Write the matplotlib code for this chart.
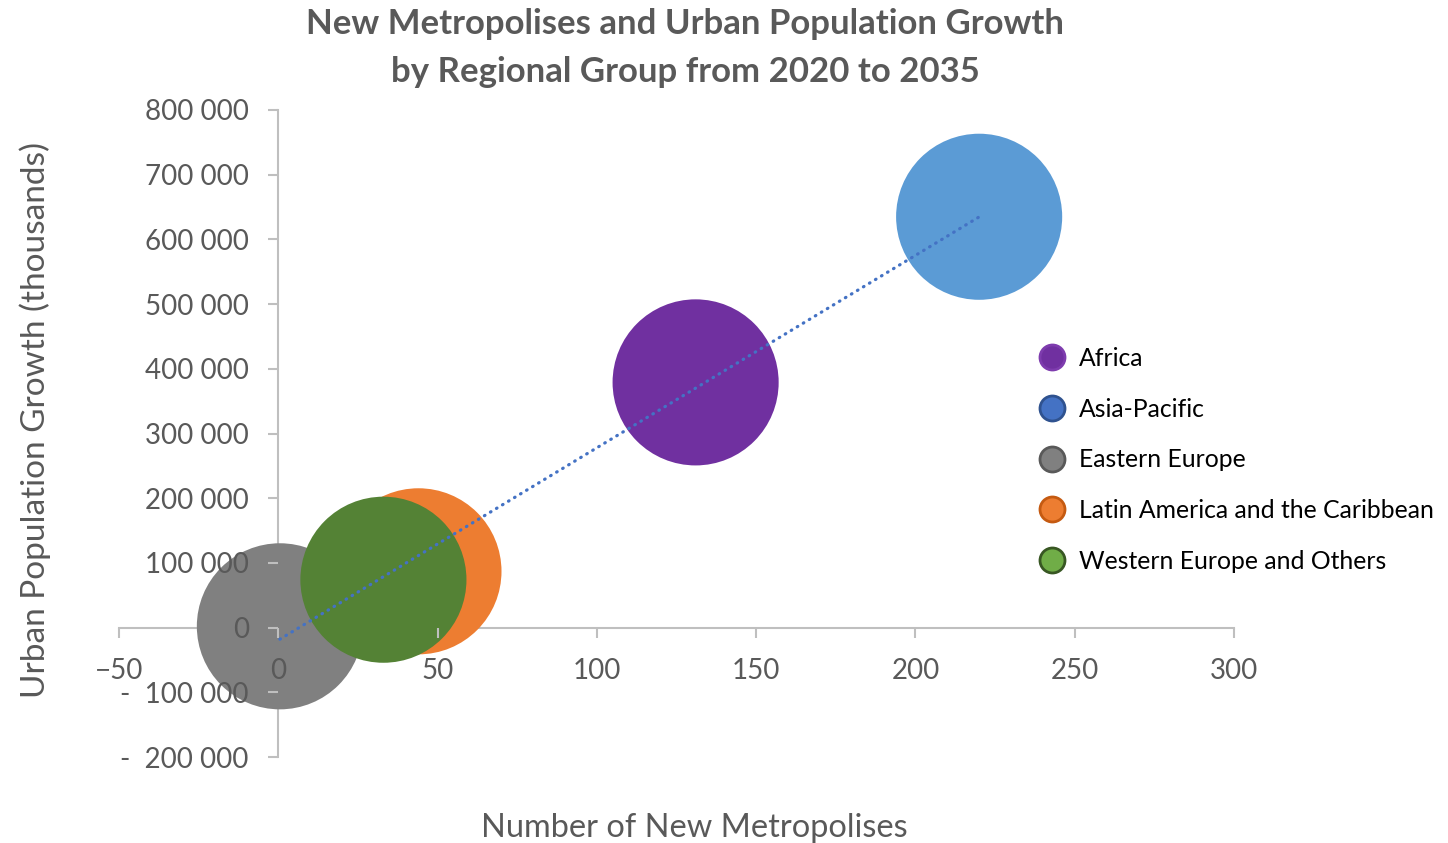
import numpy as np
from matplotlib import pyplot as plt
from matplotlib.ticker import FuncFormatter
from matplotlib.lines import Line2D

#### DATA ####
regions = ['Africa', 'Asia-Pacific', 'Eastern Europe',
           'Latin America and the Caribbean', 'Western Europe and Others']
new_metropolises = [131, 220, 0.5, 44, 33]
urban_growth = [379000, 635000, 2000, 87000, 74000]   # thousands

bubble_colors = ['#7030A0', '#5B9BD5', '#808080', '#ED7D31', '#548235']
legend_fill = ['#7030A0', '#4472C4', '#808080', '#ED7D31', '#70AD47']
legend_edge = ['#7E3CAE', '#2F528F', '#595959', '#C55A11', '#385723']

x_ticks = [-50, 0, 50, 100, 150, 200, 250, 300]
y_ticks = [-200000, -100000, 0, 100000, 200000, 300000, 400000,
           500000, 600000, 700000, 800000]

plt.rcParams['font.family'] = ['Lato', 'DejaVu Sans']

fig = plt.figure(figsize=(14.48, 8.43), dpi=100)
ax = fig.add_axes([119/1448, 1-757/843, (1234-119)/1448, (757-110)/843])

#### BUBBLES ####
for i in range(len(regions)):
    ax.scatter(new_metropolises[i], urban_growth[i], s=14300,
               color=bubble_colors[i], edgecolors='none', zorder=1,
               clip_on=False)

#### LINEAR TRENDLINE ####
slope, intercept = np.polyfit(new_metropolises, urban_growth, 1)
xt = np.array([min(new_metropolises), max(new_metropolises)])
ax.plot(xt, slope*xt + intercept, color='#4472C4', lw=2.3,
        linestyle=(0, (0.2, 2.0)), dash_capstyle='round', zorder=3)

#### AXES ####
ax.set_xlim(-50, 300)
ax.set_ylim(-200000, 800000)
for s in ['top', 'right']:
    ax.spines[s].set_visible(False)
for s in ['left', 'bottom']:
    ax.spines[s].set_position(('data', 0))
    ax.spines[s].set_color('#BFBFBF')
    ax.spines[s].set_linewidth(1.5)
    ax.spines[s].set_zorder(0.5)
ax.spines['left'].set_bounds(-200000, 800000)
ax.spines['bottom'].set_bounds(-50, 300)

def yfmt(v, pos):
    if v == 0:
        return '0'
    txt = f'{abs(v):,.0f}'.replace(',', ' ')
    if v < 0:
        return '-  ' + txt
    return txt

ax.set_xticks(x_ticks)
ax.set_yticks(y_ticks)
ax.yaxis.set_major_formatter(FuncFormatter(yfmt))
ax.tick_params(axis='both', direction='out', length=7.2, width=1.5,
               color='#BFBFBF', labelcolor='#595959', labelsize=20)
ax.tick_params(axis='y', pad=14)
ax.tick_params(axis='x', pad=15)

#### TEXTS ####
fig.text(685/1448, 1-48/843,
         'New Metropolises and Urban Population Growth\nby Regional Group from 2020 to 2035',
         ha='center', va='center', fontsize=25, fontweight='bold',
         color='#595959', linespacing=1.58)
fig.text(35/1448, 1-420/843, 'Urban Population Growth (thousands)',
         rotation=90, ha='center', va='center', fontsize=24, color='#595959')
fig.text(694/1448, 1-828/843, 'Number of New Metropolises',
         ha='center', va='center', fontsize=23.4, color='#595959')

#### LEGEND ####
handles = [Line2D([], [], marker='o', linestyle='none', markersize=18,
                  markerfacecolor=legend_fill[i], markeredgecolor=legend_edge[i],
                  markeredgewidth=2) for i in range(len(regions))]
ax.legend(handles, regions, loc='upper left', frameon=False,
          bbox_to_anchor=(1027/1448, 1-337/843), bbox_transform=fig.transFigure,
          fontsize=17.8, labelspacing=1.12, handletextpad=0.5,
          handlelength=1.2, borderaxespad=0)

fig.savefig('out.png', dpi=100)
